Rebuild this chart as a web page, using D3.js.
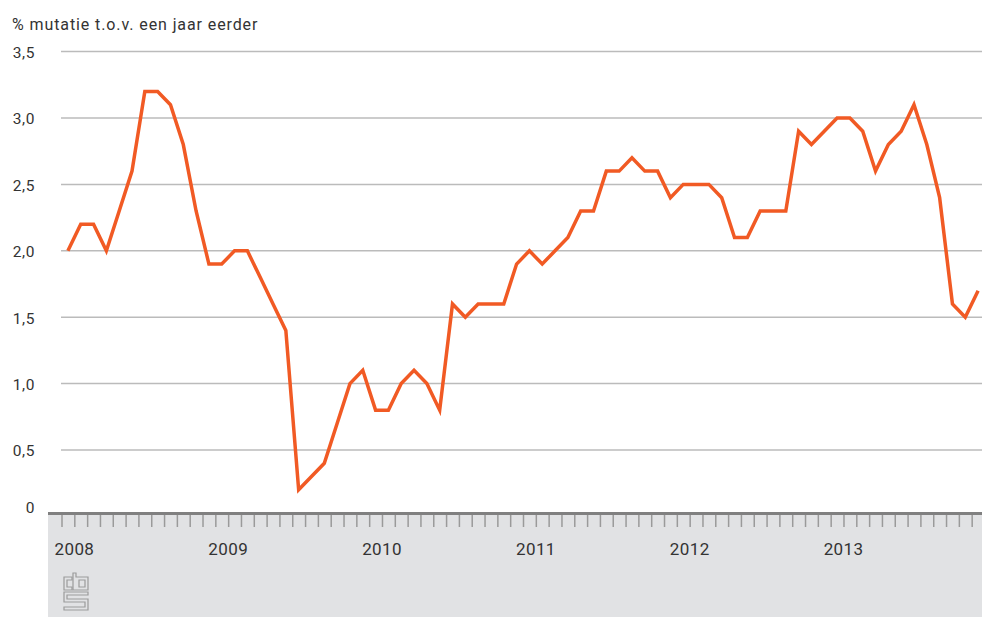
<!DOCTYPE html>
<html>
<head>
<meta charset="utf-8">
<script src="https://cdn.jsdelivr.net/npm/d3@7"></script>
<style>
  body { margin: 0; background: #fff; }
  svg { display: block; font-family: Roboto, "Open Sans", sans-serif; }
</style>
</head>
<body>
<div class="canvas"></div>
<script>
// data: % change vs. a year earlier, monthly 2008 - 2013
const years = [2008, 2009, 2010, 2011, 2012, 2013];
const values = [
  2.0, 2.2, 2.2, 2.0, 2.3, 2.6, 3.2, 3.2, 3.1, 2.8, 2.3, 1.9, // 2008
  1.9, 2.0, 2.0, 1.8, 1.6, 1.4, 0.2, 0.3, 0.4, 0.7, 1.0, 1.1, // 2009
  0.8, 0.8, 1.0, 1.1, 1.0, 0.8, 1.6, 1.5, 1.6, 1.6, 1.6, 1.9, // 2010
  2.0, 1.9, 2.0, 2.1, 2.3, 2.3, 2.6, 2.6, 2.7, 2.6, 2.6, 2.4, // 2011
  2.5, 2.5, 2.5, 2.4, 2.1, 2.1, 2.3, 2.3, 2.3, 2.9, 2.8, 2.9, // 2012
  3.0, 3.0, 2.9, 2.6, 2.8, 2.9, 3.1, 2.8, 2.4, 1.6, 1.5, 1.7  // 2013
];
const yTicks = [0, 0.5, 1, 1.5, 2, 2.5, 3, 3.5];
const yTitle = "% mutatie t.o.v. een jaar eerder";

const width = 982, height = 617;
const fmt = v => v === 0 ? "0" : d3.format(".1f")(v).replace(".", ",");

const svg = d3.select(".canvas")
  .append("svg")
    .attr("width", width)
    .attr("height", height);

const x = d3.scaleLinear()
    .domain([0, years.length * 12])
    .range([61.5, 984.5]);
const y = d3.scaleLinear()
    .domain([0, 3.5])
    .range([516.4, 51.6]);

// grey footer panel
svg.append("rect")
    .attr("x", 48)
    .attr("y", 512)
    .attr("width", width - 48)
    .attr("height", height - 512)
    .attr("fill", "#e1e2e4");

// gridlines
svg.append("g")
  .selectAll("line")
  .data(yTicks.filter(d => d > 0))
  .enter().append("line")
    .attr("x1", 61)
    .attr("x2", width)
    .attr("y1", d => y(d))
    .attr("y2", d => y(d))
    .attr("stroke", "#bbbbbb")
    .attr("stroke-width", 1.5);

// y labels
svg.append("g")
  .selectAll("text")
  .data(yTicks)
  .enter().append("text")
    .attr("x", 35)
    .attr("y", d => d === 0 ? y(d) - 9 : y(d) + 1)
    .attr("dy", "0.35em")
    .attr("text-anchor", "end")
    .attr("font-size", 15.5)
    .attr("letter-spacing", 0.6)
    .attr("fill", "#333")
    .text(fmt);

svg.append("text")
    .attr("x", 12)
    .attr("y", 30)
    .attr("font-size", 16)
    .attr("letter-spacing", 0.9)
    .attr("fill", "#333")
    .text(yTitle);

// month ticks
const xAxis = d3.axisBottom(x)
    .tickValues(d3.range(years.length * 12))
    .tickSize(12)
    .tickFormat("");
const xAxisGroup = svg.append("g")
    .attr("transform", "translate(0,515)")
    .call(xAxis);
xAxisGroup.select(".domain").remove();
xAxisGroup.selectAll(".tick line")
    .attr("stroke", "#9a9a9a")
    .attr("stroke-width", 1.5);

// axis line
svg.append("rect")
    .attr("x", 48)
    .attr("y", 512)
    .attr("width", width - 48)
    .attr("height", 3)
    .attr("fill", "#808080");

// year labels
svg.append("g")
  .selectAll("text")
  .data(years)
  .enter().append("text")
    .attr("x", (d, i) => x(i * 12) - 7)
    .attr("y", 555)
    .attr("font-size", 17)
    .attr("letter-spacing", 0.4)
    .attr("fill", "#333")
    .text(d => d);

// the line
const line = d3.line()
    .x((d, i) => x(i + 0.5))
    .y(d => y(d));

svg.append("path")
    .datum(values)
    .attr("d", line)
    .attr("fill", "none")
    .attr("stroke", "#f15a24")
    .attr("stroke-width", 3.5);

// cbs logo
const logo = svg.append("g")
    .attr("transform", "translate(63,573)")
    .attr("fill", "none")
    .attr("stroke", "#9b9b9b")
    .attr("stroke-width", 1.2);
logo.append("path").attr("d", "M9,4 H1 V17 H9 V14 H4 V7 H9 Z");
logo.append("path").attr("d", "M10,0 H13 V4 H25 V17 H10 Z M16,7 H22 V14 H16 Z");
logo.append("path").attr("d", "M1,19 H25 V22 H4 V26 H25 V37 H1 V34 H22 V29 H1 Z");
</script>
</body>
</html>
